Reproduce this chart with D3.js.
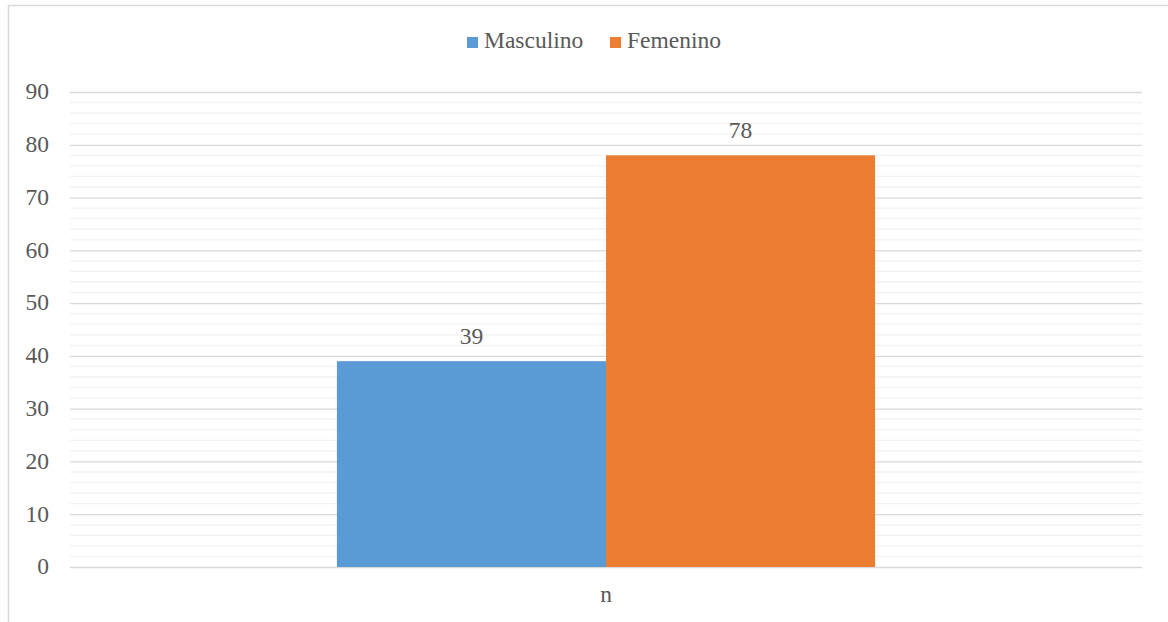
<!DOCTYPE html>
<html>
<head>
<meta charset="utf-8">
<script src="https://cdn.jsdelivr.net/npm/d3@7"></script>
</head>
<body style="margin:0;background:#fff">
<script>
var categories = ["n"];
var seriesNames = ["Masculino", "Femenino"];
var seriesValues = [[39], [78]];
var seriesColors = ["#5b9bd5", "#ed7d31"];
var yTicks = [0, 10, 20, 30, 40, 50, 60, 70, 80, 90];

var width = 1168, height = 622;
var margin = {top: 92, right: 26, bottom: 55, left: 70};
var FONT = "'Liberation Serif', 'Times New Roman', serif";
var FONT_SIZE = 23.5;
var TEXT_COLOR = "#595959";

// wrapper: svg for marks, html layer on top for the serif labels
var wrap = d3.select("body").append("div")
    .style("position", "relative")
    .style("width", width + "px")
    .style("height", height + "px");

var svg = wrap.append("svg")
    .attr("width", width)
    .attr("height", height)
    .style("position", "absolute")
    .style("left", 0).style("top", 0);

var labels = wrap.append("div")
    .style("position", "absolute")
    .style("left", 0).style("top", 0)
    .style("width", width + "px").style("height", height + "px")
    .style("font-family", FONT, "important")
    .style("font-size", FONT_SIZE + "px", "important")
    .style("line-height", FONT_SIZE + "px")
    .style("color", TEXT_COLOR)
    .style("white-space", "nowrap");

// place a text so that its baseline sits at by
function addLabel(x, by, txt, anchor) {
    var shift = anchor === "middle" ? "-50%" : anchor === "end" ? "-100%" : "0";
    labels.append("div")
        .style("position", "absolute")
        .style("left", x + "px")
        .style("top", (by - 19.7) + "px")
        .style("transform", "translateX(" + shift + ")")
        .style("font-family", FONT, "important")
        .style("font-size", FONT_SIZE + "px", "important")
        .style("line-height", FONT_SIZE + "px", "important")
        .text(txt);
}

// chart frame (only top and left edges are visible in the picture)
svg.append("rect")
    .attr("x", 8.5).attr("y", 5.5)
    .attr("width", 1180).attr("height", 640)
    .attr("fill", "none")
    .attr("stroke", "#d9d9d9")
    .attr("stroke-width", 1.5);

var x0 = d3.scaleBand()
    .domain(categories)
    .range([margin.left, width - margin.right])
    .paddingInner(0)
    .paddingOuter(0.496);

var x1 = d3.scaleBand()
    .domain(seriesNames)
    .range([0, x0.bandwidth()]);

var y = d3.scaleLinear()
    .domain([0, 90])
    .range([height - margin.bottom, margin.top]);

// minor grid
var minor = d3.range(0, 90, 2).filter(function(v) { return v % 10 !== 0; });
svg.append("g").selectAll("line")
    .data(minor).enter().append("line")
    .attr("x1", margin.left).attr("x2", width - margin.right)
    .attr("y1", function(d) { return y(d); })
    .attr("y2", function(d) { return y(d); })
    .attr("stroke", "#f2f2f2")
    .attr("stroke-width", 1.3);

// major grid via axis (labels are drawn in the html layer)
var yAxis = d3.axisLeft(y)
    .tickValues(yTicks)
    .tickSize(-(width - margin.left - margin.right))
    .tickFormat("");

var ga = svg.append("g")
    .attr("transform", "translate(" + margin.left + ",0)")
    .call(yAxis);
ga.select(".domain").remove();
ga.selectAll(".tick line").attr("stroke", "#d9d9d9").attr("stroke-width", 1.3);
ga.selectAll(".tick text").remove();

yTicks.forEach(function(t) {
    addLabel(margin.left - 21, y(t) + 8, t, "end");
});

// bars + value labels
categories.forEach(function(cat, ci) {
    seriesNames.forEach(function(name, si) {
        var v = seriesValues[si][ci];
        var bx = x0(cat) + x1(name);
        svg.append("rect")
            .attr("x", bx)
            .attr("width", x1.bandwidth())
            .attr("y", y(v))
            .attr("height", y(0) - y(v))
            .attr("fill", seriesColors[si]);
        addLabel(bx + x1.bandwidth() / 2, y(v) - 16.5, v, "middle");
    });
    addLabel(x0(cat) + x0.bandwidth() / 2, 603, cat, "middle");
});

// legend
var legendX = [467, 610];
seriesNames.forEach(function(name, i) {
    svg.append("rect")
        .attr("x", legendX[i]).attr("y", 37)
        .attr("width", 11).attr("height", 11)
        .attr("fill", seriesColors[i]);
    addLabel(legendX[i] + 17, 49, name, "start");
});
</script>
</body>
</html>
